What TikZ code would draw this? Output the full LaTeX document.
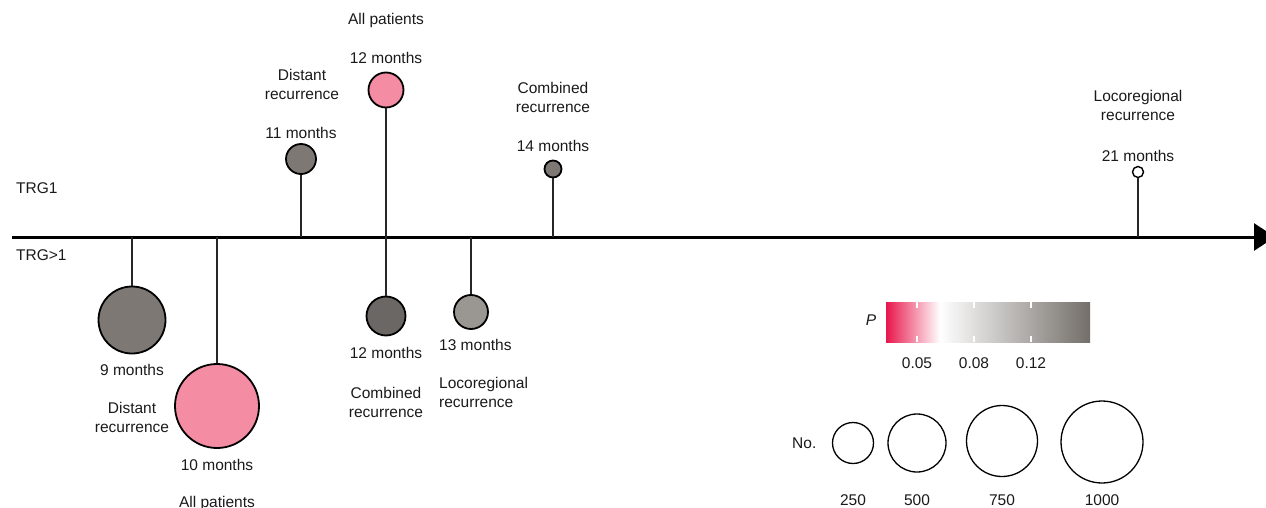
\documentclass[tikz,border=0pt]{standalone}
\usepackage{fontspec}
\setmainfont{Liberation Sans}
\usetikzlibrary{arrows.meta}
\definecolor{gA}{HTML}{7D7873}
\definecolor{gD}{HTML}{6B6764}
\definecolor{gL}{HTML}{9A9691}
\definecolor{pk}{HTML}{F48DA4}
\definecolor{pred}{HTML}{E8174B}
\definecolor{gEnd}{HTML}{736E69}
\definecolor{txt}{HTML}{1A1A1A}
\begin{document}
\begin{tikzpicture}[x=1pt,y=-1pt,
  lbl/.style={font=\fontsize{15.5}{19}\selectfont, inner sep=0pt, anchor=base, text=txt},
  lblw/.style={lbl, anchor=base west},
  bub/.style={circle, draw=black, line width=1.8pt, inner sep=0pt, minimum size=#1},
  leg/.style={circle, draw=black, line width=1.3pt, inner sep=0pt, minimum size=#1},
  stem/.style={draw=black!85, line width=1.5pt}]
\useasboundingbox (0,0) rectangle (1266,508);

% axis
\coordinate (ax0) at (12,237);
\coordinate (axE) at (1275,237);
\draw[line width=3pt, -{Triangle[length=21pt,width=27pt]}] (ax0) -- (axE);

% anchor points on axis
\coordinate (p9) at (132,237);
\coordinate (p10) at (217,237);
\coordinate (p11) at (301,237);
\coordinate (p12) at (386,237);
\coordinate (p13) at (471,237);
\coordinate (p14) at (553,237);
\coordinate (p21) at (1138,237);

% bubbles
\node[bub=67, fill=gA] (b9) at (132,320) {};
\node[bub=84, fill=pk] (b10) at (217,406) {};
\node[bub=30, fill=gA] (b11) at (301,159) {};
\node[bub=35, fill=pk] (b12t) at (386,90) {};
\node[bub=39, fill=gD] (b12b) at (386,316) {};
\node[bub=34, fill=gL] (b13) at (471,312) {};
\node[bub=17, fill=gA] (b14) at (553,169) {};
\node[bub=11, fill=white, line width=1.4pt] (b21) at (1138,172) {};

% stems
\draw[stem] (p9) -- (b9.north);
\draw[stem] (p10) -- (b10.north);
\draw[stem] (p11) -- (b11.south);
\draw[stem] (p12) -- (b12t.south);
\draw[stem] (p12) -- (b12b.north);
\draw[stem] (p13) -- (b13.north);
\draw[stem] (p14) -- (b14.south);
\draw[stem] (p21) -- (b21.south);

% group labels
\node[lblw] (trg1) at (16,193) {TRG1};
\node[lblw] (trg2) at (16,260) {TRG>1};

% top labels
\node[lbl] (t12a) at (386,25) {All patients};
\node[lbl] (t12m) at (386,64) {12 months};
\node[lbl] (t11a) at (302,81) {Distant};
\node[lbl] (t11b) at (302,100) {recurrence};
\node[lbl] (t11m) at (301,139) {11 months};
\node[lbl] (t14a) at (553,94) {Combined};
\node[lbl] (t14b) at (553,113) {recurrence};
\node[lbl] (t14m) at (553,152) {14 months};
\node[lbl] (t21a) at (1138,102) {Locoregional};
\node[lbl] (t21b) at (1138,121) {recurrence};
\node[lbl] (t21m) at (1138,161) {21 months};

% bottom labels
\node[lbl] (t9m) at (132,375) {9 months};
\node[lbl] (t9a) at (132,413) {Distant};
\node[lbl] (t9b) at (132,432) {recurrence};
\node[lbl] (t10m) at (217,470) {10 months};
\node[lbl] (t10a) at (217,507) {All patients};
\node[lbl] (t12bm) at (386,358) {12 months};
\node[lbl] (t12ba) at (386,398) {Combined};
\node[lbl] (t12bb) at (386,417) {recurrence};
\node[lblw] (t13m) at (439,350) {13 months};
\node[lblw] (t13a) at (439,388) {Locoregional};
\node[lblw] (t13b) at (439,407) {recurrence};

% colour legend
\shade[left color=pred, right color=white] (886,302) rectangle (940,342);
\shade[left color=white, right color=gEnd] (940,302) rectangle (1090,342);
\foreach \x in {917,974,1031} {
  \draw[white, line width=1.2pt] (\x,302) -- (\x,308);
  \draw[white, line width=1.2pt] (\x,336) -- (\x,342);
}
\node[lbl, anchor=center, font=\fontsize{15.5}{19}\selectfont\itshape] (pl) at (871,320) {P};
\node[lbl] (v1) at (917,368) {0.05};
\node[lbl] (v2) at (974,368) {0.08};
\node[lbl] (v3) at (1031,368) {0.12};

% size legend
\node[lblw] (no) at (792,448) {No.};
\node[leg=41] (s1) at (853,443) {};
\node[leg=58] (s2) at (917,443) {};
\node[leg=71] (s3) at (1002,441) {};
\node[leg=82] (s4) at (1102,442) {};
\node[lbl] (n1) at (853,505) {250};
\node[lbl] (n2) at (917,505) {500};
\node[lbl] (n3) at (1002,505) {750};
\node[lbl] (n4) at (1102,505) {1000};
\end{tikzpicture}
\end{document}
